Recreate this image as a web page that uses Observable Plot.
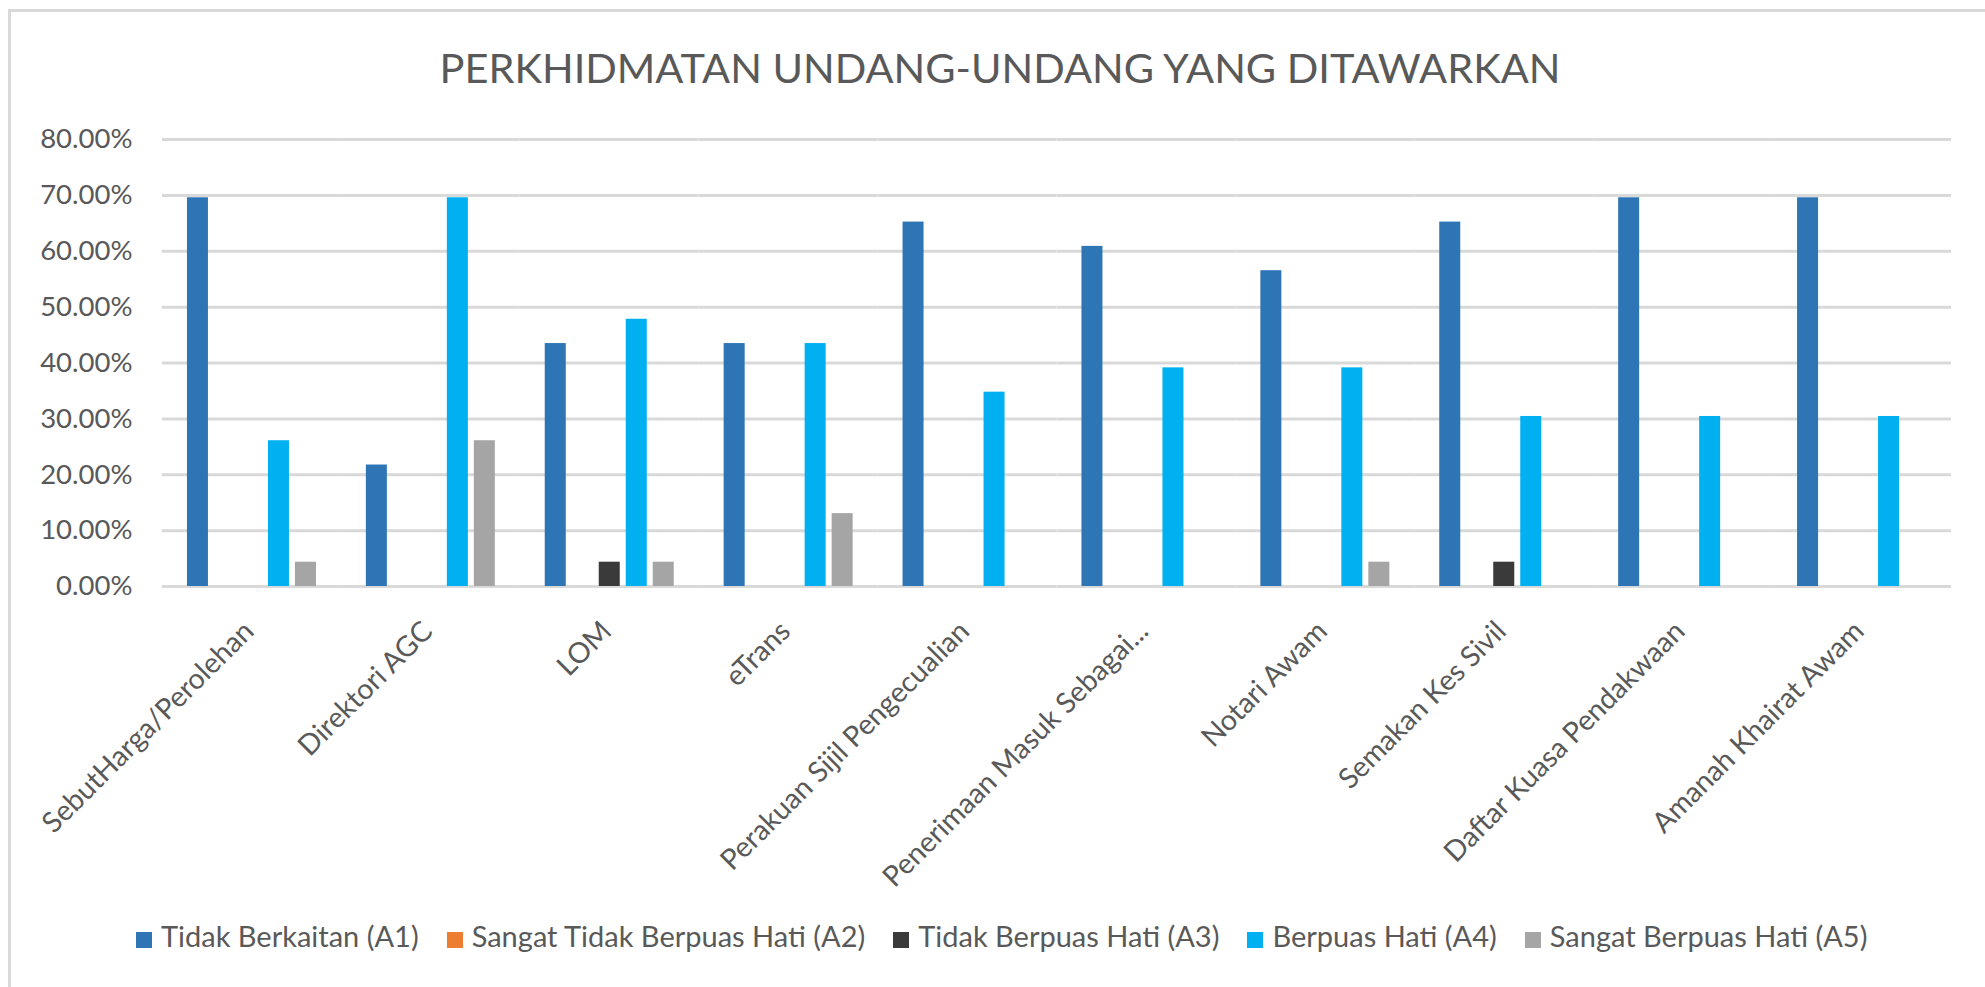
<!DOCTYPE html>
<html>
<head>
<meta charset="utf-8">
<script src="https://cdn.jsdelivr.net/npm/d3@7"></script>
<script src="https://cdn.jsdelivr.net/npm/@observablehq/plot@0.6"></script>
<style>
  html, body { margin: 0; padding: 0; background: #fff; overflow: hidden; }
  body { width: 1985px; height: 987px; position: relative; font-family: Lato, "Open Sans", sans-serif; }
  #frame { position: absolute; left: 8px; top: 9px; width: 1990px; height: 990px; border-left: 3px solid #d9d9d9; border-top: 3px solid #d9d9d9; box-sizing: border-box; }
  #title { position: absolute; top: 47px; left: 15px; width: 1970px; text-align: center; font-size: 41.5px; line-height: 1; color: #595959; white-space: nowrap; }
  #chart { position: absolute; left: 0; top: 100px; }
  #legend { position: absolute; top: 921px; left: 136px; display: flex; align-items: center; font-size: 29px; line-height: 1; color: #595959; white-space: nowrap; }
  .item { display: flex; align-items: center; margin-right: 28px; }
  .sw { width: 16px; height: 16px; margin-right: 9px; margin-top: 8px; }
</style>
</head>
<body>
<div id="frame"></div>
<div id="title"></div>
<div id="chart"></div>
<div id="legend"></div>
<script>
const titleText = "PERKHIDMATAN UNDANG-UNDANG YANG DITAWARKAN";
const categories = [
  "SebutHarga/Perolehan", "Direktori AGC", "LOM", "eTrans",
  "Perakuan Sijil Pengecualian", "Penerimaan Masuk Sebagai...",
  "Notari Awam", "Semakan Kes Sivil", "Daftar Kuasa Pendakwaan", "Amanah Khairat Awam"
];
const seriesNames = [
  "Tidak Berkaitan (A1)", "Sangat Tidak Berpuas Hati (A2)", "Tidak Berpuas Hati (A3)",
  "Berpuas Hati (A4)", "Sangat Berpuas Hati (A5)"
];
const seriesColors = ["#2E75B6", "#ED7D31", "#3A3A3A", "#00B0F0", "#A5A5A5"];
const a1 = [0.6957, 0.2174, 0.4348, 0.4348, 0.6522, 0.6087, 0.5652, 0.6522, 0.6957, 0.6957];
const a2 = [0, 0, 0, 0, 0, 0, 0, 0, 0, 0];
const a3 = [0, 0, 0.0435, 0, 0, 0, 0, 0.0435, 0, 0];
const a4 = [0.2609, 0.6957, 0.4783, 0.4348, 0.3478, 0.3913, 0.3913, 0.3043, 0.3043, 0.3043];
const a5 = [0.0435, 0.2609, 0.0435, 0.1304, 0, 0, 0.0435, 0, 0, 0];
const yTicks = [0, 0.1, 0.2, 0.3, 0.4, 0.5, 0.6, 0.7, 0.8];

const seriesValues = [a1, a2, a3, a4, a5];
const rows = [];
categories.forEach((c, i) => {
  seriesNames.forEach((s, j) => {
    rows.push({category: c, series: s, value: seriesValues[j][i]});
  });
});

document.getElementById("title").textContent = titleText;

const chart = Plot.plot({
  width: 1985,
  height: 780,
  marginLeft: 162,
  marginRight: 34,
  marginTop: 39,
  marginBottom: 294,
  style: {fontFamily: "Lato, 'Open Sans', sans-serif", fontSize: "27.5px", color: "#595959", background: "transparent", overflow: "visible"},
  fx: {domain: categories, padding: 0, round: false, axis: null, label: null},
  x: {domain: seriesNames, paddingInner: 0.222, paddingOuter: 0.924, round: false, axis: null},
  y: {domain: [0, 0.8], ticks: yTicks, tickFormat: d => (d * 100).toFixed(2) + "%", tickSize: 0, tickPadding: 30, label: null},
  color: {domain: seriesNames, range: seriesColors},
  marks: [
    Plot.ruleY(yTicks, {stroke: "#d9d9d9", strokeWidth: 3}),
    Plot.barY(rows, {fx: "category", x: "series", y: "value", fill: "series"}),
    Plot.text(categories, {
      fx: d => d, text: d => d, frameAnchor: "bottom",
      rotate: -45, textAnchor: "end", lineAnchor: "middle",
      dx: -3, dy: 40, fontSize: 28.5, fill: "#595959"
    })
  ]
});
document.getElementById("chart").appendChild(chart);

const legend = document.getElementById("legend");
seriesNames.forEach((s, j) => {
  const item = document.createElement("div");
  item.className = "item";
  const sw = document.createElement("div");
  sw.className = "sw";
  sw.style.background = seriesColors[j];
  const tx = document.createElement("span");
  tx.textContent = s;
  item.appendChild(sw);
  item.appendChild(tx);
  legend.appendChild(item);
});
</script>
</body>
</html>
